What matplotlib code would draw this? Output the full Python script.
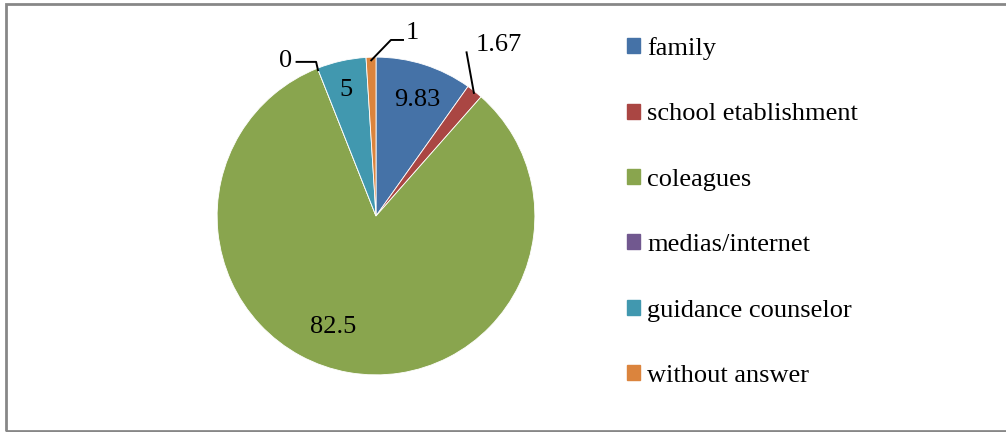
import matplotlib.pyplot as plt
import matplotlib.patches as mpatches

plt.rcParams['font.family'] = ['Liberation Serif', 'DejaVu Serif']

categories = ['family', 'school etablishment', 'coleagues', 'medias/internet',
              'guidance counselor', 'without answer']
values = [9.83, 1.67, 82.5, 0, 5, 1]
value_labels = ['9.83', '1.67', '82.5', '0', '5', '1']
colors = ['#4572A7', '#AA4643', '#89A54E', '#71588F', '#4198AF', '#DB843D']

fig = plt.figure(figsize=(10.06, 4.32), dpi=100)

# chart frame (right side runs off the picture)
fig.patches.append(mpatches.Rectangle((5.5 / 1006, 1.5 / 432), 1010 / 1006, 426.5 / 432,
                                      transform=fig.transFigure, fill=False,
                                      edgecolor='#878787', linewidth=2))

# pie axes, centre about (376, 216) px, radius about 159 px
ax = fig.add_axes([(376 - 170) / 1006, (432 - 216 - 170) / 432, 340 / 1006, 340 / 432])
wedges, _ = ax.pie(values, colors=colors, startangle=90, counterclock=False,
                   wedgeprops={'linewidth': 0.6, 'edgecolor': 'white'})
ax.set_xlim(-1.07, 1.07)
ax.set_ylim(-1.07, 1.07)
ax.set_aspect('equal')
ax.axis('off')

fs = 19
# inside labels
inside = {0: (0.26, 0.73), 2: (-0.27, -0.70), 4: (-0.19, 0.79)}
for i, (x, y) in inside.items():
    ax.text(x, y, value_labels[i], ha='center', va='center', fontsize=fs)

# outside labels with leader lines
outside = {
    1: ((0.77, 1.075), [(0.57, 1.03), (0.616, 0.775)]),
    3: ((-0.57, 0.975), [(-0.50, 0.97), (-0.377, 0.97), (-0.365, 0.918)]),
    5: ((0.23, 1.15), [(0.17, 1.108), (0.094, 1.108), (-0.03, 0.98)]),
}
for i, ((tx, ty), pts) in outside.items():
    ax.text(tx, ty, value_labels[i], ha='center', va='center', fontsize=fs, clip_on=False)
    xs, ys = zip(*pts)
    ax.plot(xs, ys, color='black', linewidth=1.4, clip_on=False)

# legend
handles = [mpatches.Patch(color=c) for c in colors]
fig.legend(handles, categories, loc='upper left', bbox_to_anchor=(627 / 1006, 1 - 37 / 432),
           frameon=False, fontsize=fs, handlelength=0.5, handleheight=0.5,
           handletextpad=0.27, labelspacing=1.645, borderpad=0, borderaxespad=0)

fig.savefig('out.png', dpi=100)
